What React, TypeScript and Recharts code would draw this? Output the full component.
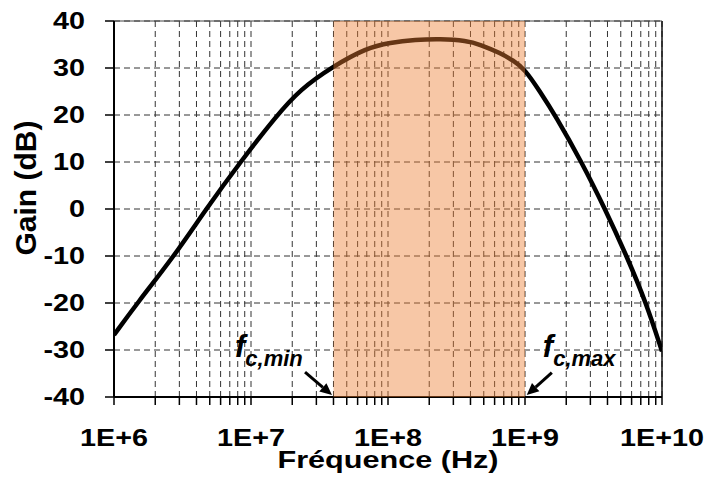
import React from 'react'
import {
  LineChart,
  Line,
  XAxis,
  YAxis,
  CartesianGrid,
  ReferenceArea,
  ReferenceLine,
  ReferenceDot,
} from 'recharts'

// gain curve (frequency in Hz, gain in dB)
const FREQ_HZ = [
  1e6, 1.48e6, 2.75e6, 4.7e6, 8.36e6, 1.55e7, 2.28e7, 3.88e7, 7.0e7, 1.035e8, 1.585e8,
  2.4e8, 3.75e8, 4.7e8, 6.58e8, 8.22e8, 1e9, 1.285e9, 1.656e9, 2.59e9, 3.84e9, 5.52e9,
  7.67e9, 1e10,
]
const GAIN_DB = [
  -26.8, -20, -10, 0, 10, 20, 25.4, 30.2, 34.3, 35.4, 36.0, 36.2, 35.8, 35.0, 33.2, 31.6, 29.7,
  25, 20, 10, 0, -10, -20, -30.3,
]

const FC_MIN = 4e7
const FC_MAX = 1e9
const DECADES = [1e6, 1e7, 1e8, 1e9, 1e10]
const MANTISSAS = [1, 2, 3, 4, 5, 6, 7, 8, 9]
const GAIN_TICKS = [-40, -30, -20, -10, 0, 10, 20, 30, 40]

const data = FREQ_HZ.map((f, i) => ({ f, gain: GAIN_DB[i] }))
const freqTicks = [
  ...DECADES.slice(0, -1).flatMap(d => MANTISSAS.map(m => d * m)),
  DECADES[DECADES.length - 1],
]

const FONT = '"Liberation Sans", Arial, sans-serif'
const STRETCH = 'scale(1.25,1)'

const XTick = (props: any) => {
  const { x, y, payload } = props
  if (!DECADES.includes(payload.value)) return <g />
  return (
    <g transform={`translate(${x},${y})`}>
      <text
        transform={STRETCH}
        textAnchor="middle"
        dy={39}
        fontFamily={FONT}
        fontWeight="bold"
        fontSize={23}
        fill="#000"
      >
        {`1E+${Math.round(Math.log10(payload.value))}`}
      </text>
    </g>
  )
}

const YTick = (props: any) => {
  const { x, y, payload } = props
  return (
    <g transform={`translate(${x},${y})`}>
      <text
        transform={STRETCH}
        textAnchor="end"
        dy={8}
        fontFamily={FONT}
        fontWeight="bold"
        fontSize={23}
        fill="#000"
      >
        {payload.value}
      </text>
    </g>
  )
}

const XTitle = (props: any) => {
  const { viewBox } = props
  return (
    <g transform={`translate(${viewBox.x + viewBox.width / 2},${viewBox.y + 71})`}>
      <text transform={STRETCH} textAnchor="middle" fontFamily={FONT} fontWeight="bold" fontSize={24.5} fill="#000">
        Fréquence (Hz)
      </text>
    </g>
  )
}

const YTitle = (props: any) => {
  const { viewBox } = props
  return (
    <text
      transform={`translate(${viewBox.x + 36},${viewBox.y + viewBox.height / 2 - 21}) rotate(-90)`}
      textAnchor="middle"
      fontFamily={FONT}
      fontWeight="bold"
      fontSize={30}
      fill="#000"
    >
      Gain (dB)
    </text>
  )
}

const FcLabel = (props: any) => {
  const { viewBox, sub } = props
  return (
    <text x={viewBox.x} y={viewBox.y} fontFamily={FONT} fontWeight="bold" fontStyle="italic" fill="#000">
      <tspan fontSize={31}>f</tspan>
      <tspan fontSize={22} dy={9}>{sub}</tspan>
    </text>
  )
}

const Arrow = (props: any) => {
  const { x1, y1, x2, y2 } = props
  const a = Math.atan2(y2 - y1, x2 - x1)
  const len = 12
  const half = 5.5
  const bx = x2 - len * Math.cos(a)
  const by = y2 - len * Math.sin(a)
  const pts = [
    [x2, y2],
    [bx + half * Math.sin(a), by - half * Math.cos(a)],
    [bx - half * Math.sin(a), by + half * Math.cos(a)],
  ]
  return (
    <g>
      <line x1={x1} y1={y1} x2={bx} y2={by} stroke="#000" strokeWidth={3} />
      <polygon points={pts.map(p => p.join(',')).join(' ')} fill="#000" />
    </g>
  )
}

const App: React.FC = () => {
  return (
    <div style={{ position: 'absolute', left: 0, top: 0, background: '#fff' }}>
      <LineChart width={711} height={482} data={data} margin={{ top: 21, right: 49, left: 0, bottom: 0 }}>
        <CartesianGrid stroke="#333" strokeDasharray="6 4" strokeWidth={1} />
        <XAxis
          dataKey="f"
          type="number"
          scale="log"
          domain={[1e6, 1e10]}
          ticks={freqTicks}
          interval={0}
          allowDataOverflow
          height={85}
          tickSize={8}
          tick={<XTick />}
          axisLine={{ stroke: '#000', strokeWidth: 2 }}
          tickLine={{ stroke: '#000', strokeWidth: 1.5 }}
          label={<XTitle />}
        />
        <YAxis
          type="number"
          domain={[-40, 40]}
          ticks={GAIN_TICKS}
          interval={0}
          width={114}
          tickSize={9}
          tickMargin={20}
          tick={<YTick />}
          axisLine={{ stroke: '#000', strokeWidth: 2 }}
          tickLine={{ stroke: '#000', strokeWidth: 1.5 }}
          label={<YTitle />}
        />
        <ReferenceLine x={1e10} stroke="#111" strokeWidth={1.5} />
        <ReferenceLine y={40} stroke="#444" strokeWidth={1} />
        <Line
          type="basis"
          dataKey="gain"
          stroke="#000"
          strokeWidth={4.5}
          dot={false}
          activeDot={false}
          isAnimationActive={false}
        />
        <ReferenceArea
          x1={FC_MIN}
          x2={FC_MAX}
          y1={-40}
          y2={40}
          fill="#ED7D31"
          fillOpacity={0.43}
          stroke="none"
          zIndex={1000}
        />
        <ReferenceLine
          segment={[{ x: 2.48e7, y: -34.7 }, { x: 3.9e7, y: -39.6 }]}
          shape={<Arrow />}
        />
        <ReferenceLine
          segment={[{ x: 1.57e9, y: -34.8 }, { x: 1.03e9, y: -39.6 }]}
          shape={<Arrow />}
        />
        <ReferenceDot x={7.64e6} y={-31.5} r={0} fill="none" stroke="none" label={<FcLabel sub="c,min" />} />
        <ReferenceDot x={1.35e9} y={-31.5} r={0} fill="none" stroke="none" label={<FcLabel sub="c,max" />} />
      </LineChart>
    </div>
  )
}

export default App
